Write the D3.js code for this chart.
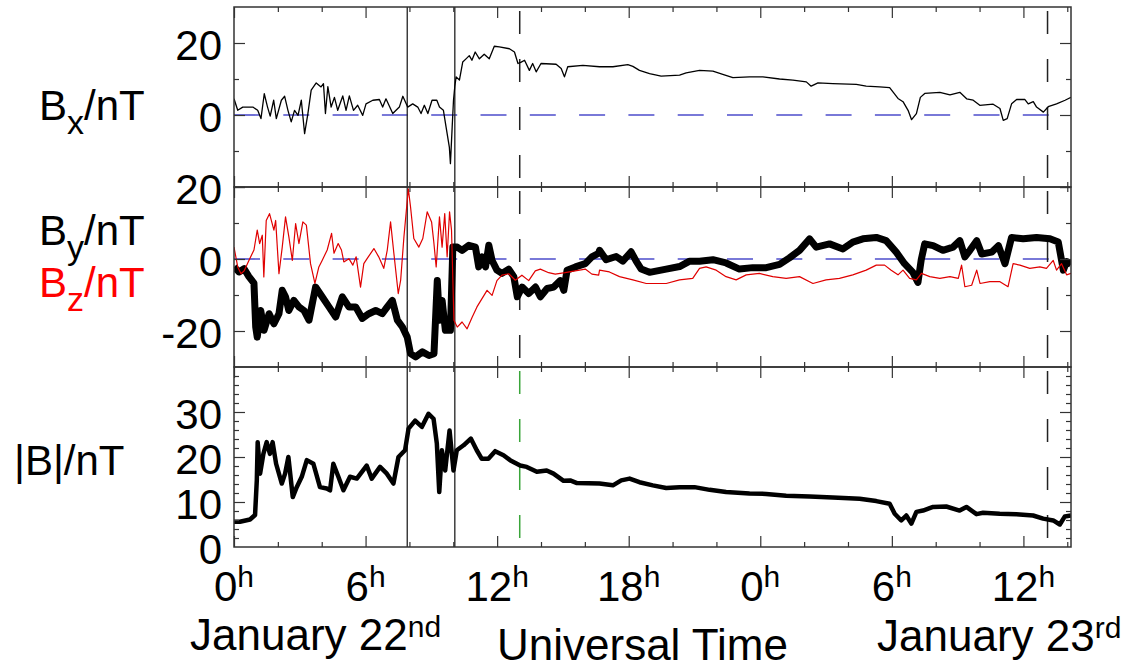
<!DOCTYPE html>
<html><head><meta charset="utf-8">
<script src="https://cdn.jsdelivr.net/npm/d3@7"></script>
<style>body{margin:0;background:#fff}svg{display:block}text{font-family:"Liberation Sans",Arial,Helvetica,sans-serif}</style>
</head><body><svg id="c" width="1132" height="670"></svg>
<script>
// ---------- data ----------
const timeDomain = [0, 38.17];           // hours since Jan 22 00 UT
const xMajorHours = [0, 6, 12, 18, 24, 30, 36];
const xMinorHours = [2, 4, 8, 10, 14, 16, 20, 22, 26, 28, 32, 34, 38];
const xTickLabels = ["0", "6", "12", "18", "0", "6", "12"];
const eventSolidHours = [7.9, 10.07];
const eventDashedHours = [13.03, 37.1];

const bxData = [[0,4.5],[0.17,1.3],[0.4,2.2],[0.86,2.2],[1.08,1.3],[1.23,-1],[1.38,5.9],[1.53,2.2],[1.65,-0.3],[1.81,4.1],[1.93,-1],[2.16,4.1],[2.31,5.2],[2.46,1.3],[2.61,-1.9],[2.76,1.3],[2.92,-0.1],[3.07,4.1],[3.22,-5.2],[3.37,0.4],[3.52,6.9],[3.75,8.9],[3.97,7.8],[4.08,8.7],[4.17,0.4],[4.28,7.9],[4.43,2.2],[4.58,4.9],[4.73,1.3],[4.96,5.3],[5.11,1.3],[5.26,5.3],[5.45,1.3],[5.64,2.7],[5.87,-0.1],[6.02,3.1],[6.33,4.1],[6.63,4.3],[6.78,2.2],[6.93,4.5],[7.24,0.4],[7.54,2.2],[7.7,5.2],[7.92,2.2],[8.15,3.1],[8.38,2.2],[8.53,0.4],[8.68,2.7],[8.84,0.4],[9.03,4.1],[9.25,4.1],[9.37,2.2],[9.55,1.3],[9.67,-3.3],[9.82,-8.9],[9.87,-13.5],[9.95,-3.3],[10.01,4.1],[10.07,8.0],[10.13,10.6],[10.28,9.7],[10.43,14.7],[10.58,15.6],[10.73,16.5],[10.85,15.2],[11.0,17.5],[11.19,15.6],[11.41,16.9],[11.64,15.6],[11.87,19.1],[12.1,18.9],[12.56,18.4],[12.79,17.5],[12.95,14.3],[13.1,14.7],[13.25,15.2],[13.47,12.4],[13.62,14.3],[13.78,12.0],[14.0,14.3],[14.69,14.1],[14.92,12.9],[15.07,10.6],[15.22,13.4],[15.91,13.8],[16.67,13.4],[17.28,13.4],[17.96,14.0],[18.19,13.5],[18.49,12.4],[18.95,11.5],[19.48,10.8],[20.32,11.1],[20.62,11.7],[21.23,12.4],[21.84,12.2],[22.29,11.3],[22.75,10.4],[23.51,10.6],[24.12,10.6],[24.88,10.0],[25.49,9.7],[26.1,9.2],[26.32,8.0],[26.63,8.9],[27.31,8.7],[28.38,8.5],[28.83,8.0],[29.44,7.8],[29.9,7.6],[30.05,6.4],[30.28,4.6],[30.51,3.7],[30.74,1.3],[30.9,-1.3],[31.12,0.4],[31.3,4.9],[31.5,6.0],[32.19,6.3],[32.65,5.6],[33.1,6.3],[33.41,4.5],[33.71,4.1],[34.01,2.7],[34.62,3.0],[34.93,1.8],[35.08,-1.5],[35.26,-1.0],[35.46,3.1],[35.69,4.3],[36.07,4.3],[36.22,3.1],[36.45,3.7],[36.6,2.2],[36.91,0.8],[37.13,2.3],[37.51,3.1],[37.9,4.1],[38.17,4.9]];

const byData = [[0,-2.2],[0.23,-3.6],[0.46,-2.7],[0.68,-4.9],[0.91,-6.7],[0.99,-18.9],[1.06,-21.7],[1.22,-14.3],[1.37,-19.8],[1.6,-15.2],[1.82,-18],[2.05,-15.2],[2.2,-8.7],[2.35,-10.5],[2.5,-14.3],[2.73,-11.5],[2.96,-13.3],[3.19,-14.3],[3.42,-17],[3.72,-7.8],[4.02,-10.5],[4.33,-13.3],[4.64,-16.1],[4.94,-10.5],[5.24,-13.3],[5.55,-13.3],[5.85,-16.5],[6.15,-15.2],[6.46,-14.3],[6.76,-15.2],[6.99,-13.3],[7.22,-11.5],[7.45,-17],[7.68,-18.9],[7.9,-21.7],[8.05,-26.3],[8.28,-27.2],[8.59,-25.8],[8.89,-26.8],[9.12,-26.3],[9.27,-6],[9.37,-17],[9.49,-11.5],[9.64,-19.8],[9.87,-19.8],[9.98,3.3],[10.18,3.3],[10.4,2.4],[10.71,3.8],[11.01,3.3],[11.16,-2.2],[11.31,0.6],[11.47,-2.2],[11.62,3.8],[11.77,-0.4],[11.99,-3.1],[12.22,-4],[12.53,-2.8],[12.76,-4.9],[12.92,-10.5],[13.14,-7.8],[13.44,-9.6],[13.75,-7.8],[13.97,-10.5],[14.28,-8.2],[14.58,-7.8],[14.88,-6],[15.04,-8.7],[15.19,-3.1],[15.57,-2.2],[16.02,-1.3],[16.32,0.6],[16.63,1.6],[16.67,2.4],[16.97,-0.2],[17.43,0.7],[17.73,-0.6],[18.11,2.0],[18.34,-0.6],[18.57,-2.8],[18.95,-3.7],[19.71,-2.8],[20.32,-2.1],[20.78,-0.6],[21.23,-0.6],[21.84,-0.2],[22.44,-1.1],[23.05,-2.8],[23.66,-2.4],[24.27,-2.4],[24.88,-1.5],[25.33,0.3],[25.79,2.4],[26.25,5.6],[26.55,3.3],[27.16,4.2],[27.77,2.8],[28.22,4.7],[28.68,5.6],[29.29,6.0],[29.74,5.1],[30.2,1.9],[30.58,-1.3],[30.96,-3.7],[31.19,-6.5],[31.34,-0.2],[31.5,4.2],[31.88,3.7],[32.33,2.4],[32.79,3.3],[33.1,5.1],[33.33,0.6],[33.56,2.4],[33.87,5.1],[34.1,1.4],[34.55,1.9],[34.86,3.7],[35.16,-1.3],[35.46,6.0],[35.99,5.6],[36.6,6.0],[37.21,5.6],[37.59,4.7],[37.82,-3.1],[37.97,-0.7],[38.17,-1.5]];

const bzData = [[0,3.3],[0.17,-2.2],[0.32,-4.1],[0.46,-3.3],[0.68,-0.4],[0.91,2.5],[1.06,8.0],[1.17,4.3],[1.29,6.6],[1.36,-5],[1.47,10.7],[1.62,12.6],[1.82,8],[1.9,10.7],[2.05,-4.1],[2.2,3.3],[2.35,11.7],[2.5,6.2],[2.66,-0.4],[2.81,9.8],[2.96,4.3],[3.14,10.3],[3.3,9.4],[3.49,-1.3],[3.69,-6.8],[3.87,-2.2],[4.02,-0.4],[4.25,2.5],[4.45,7.1],[4.56,1.6],[4.75,4.3],[4.9,2.5],[5.01,-0.8],[5.24,0.1],[5.42,-1.7],[5.57,0.6],[5.77,-7.8],[5.92,-1.3],[6.07,0.1],[6.38,2.9],[6.6,0.6],[6.83,-2.6],[6.99,2.5],[7.14,10.3],[7.29,1.6],[7.49,-9.6],[7.6,-5.9],[7.75,6.2],[7.95,19.5],[8.05,14.5],[8.2,5.7],[8.43,3.3],[8.61,5.7],[8.81,13.1],[9.01,10.3],[9.11,4.8],[9.22,-2.2],[9.37,11.7],[9.49,3.3],[9.61,12.6],[9.72,0.6],[9.83,13.1],[9.92,8],[10.03,-17],[10.18,-18.9],[10.4,-17.5],[10.63,-19.4],[10.86,-16.2],[11.08,-13.3],[11.31,-11],[11.54,-8.7],[11.77,-10.1],[11.99,-6],[12.22,-4.5],[12.53,-4.1],[12.83,-5.9],[13.13,-4.5],[13.44,-6],[13.74,-3.3],[13.97,-2.8],[14.35,-3.8],[14.65,-4.2],[15.1,-3.8],[15.56,-3.3],[16.02,-2.8],[16.32,-4.2],[16.63,-4.5],[16.67,-3.1],[17.12,-3.6],[17.58,-4.9],[18.19,-5.8],[18.8,-6.8],[19.71,-6.8],[20.32,-5.8],[20.92,-5.4],[21.23,-2.6],[21.53,-2.2],[21.99,-3.1],[22.44,-4.9],[22.9,-5.8],[23.36,-4.4],[23.96,-4.0],[24.57,-4.9],[25.18,-5.4],[25.79,-4.9],[26.4,-6.8],[27.0,-5.8],[27.61,-5.4],[28.22,-4.4],[28.83,-3.1],[29.29,-1.7],[29.67,-1.7],[29.97,-3.1],[30.28,-4.4],[30.51,-3.1],[30.81,-5.4],[31.12,-5.8],[31.35,-4.0],[31.73,-4.9],[32.19,-5.4],[32.65,-4.9],[33.03,-5.4],[33.18,-1.7],[33.33,-7.7],[33.64,-7.3],[33.87,-3.1],[34.02,-6.8],[34.47,-6.3],[34.93,-6.3],[35.3,-7.7],[35.53,-1.3],[35.84,-1.7],[36.29,-2.6],[36.75,-2.2],[37.05,-2.6],[37.36,-0.4],[37.51,-3.1],[37.74,-1.3],[37.97,-4.4],[38.17,-4.0]];

const bData = [[0,5.6],[0.27,5.6],[0.73,6.1],[0.96,7.1],[1.04,14.8],[1.08,23.3],[1.19,16.3],[1.34,20.7],[1.49,23.3],[1.64,20.7],[1.76,23.3],[1.92,18.5],[2.18,14.1],[2.33,16.3],[2.48,20],[2.68,11.1],[2.86,13.3],[3.09,15.6],[3.32,19.3],[3.62,18.5],[3.92,13.3],[4.23,13],[4.38,12.6],[4.53,18.5],[4.76,15.6],[4.99,12.6],[5.29,15.6],[5.6,15.2],[6.05,18.1],[6.28,15.2],[6.66,17.8],[6.97,16.3],[7.27,14.1],[7.5,20],[7.8,21.5],[7.96,26.3],[8.26,28.1],[8.57,26.7],[8.87,29.6],[9.1,28.5],[9.25,23],[9.36,12.2],[9.48,21.5],[9.63,17],[9.83,25.9],[10.01,17],[10.16,21.5],[10.47,22.6],[10.8,24.1],[11.07,21.5],[11.3,19.6],[11.6,19.6],[11.91,21.3],[12.29,20.4],[12.59,19.3],[13.05,18.1],[13.35,17.8],[13.81,16.7],[14.26,17],[14.57,16.3],[15.03,14.7],[15.33,14.8],[15.64,14.2],[16.67,14.1],[17.28,13.7],[17.66,14.8],[18.04,15.2],[18.49,14.4],[19.1,13.7],[19.71,13.1],[20.32,13.3],[21.0,13.3],[21.69,12.7],[22.44,12.2],[23.51,11.9],[24.27,11.8],[25.18,11.4],[26.25,11.2],[27.31,11.0],[28.53,10.7],[29.29,10.2],[29.9,9.6],[30.13,7.4],[30.43,5.9],[30.66,7.0],[30.89,5.2],[31.12,7.8],[31.42,8.1],[31.88,8.9],[32.48,9.0],[33.09,8.1],[33.4,8.9],[33.86,7.3],[34.16,7.6],[34.92,7.4],[35.68,7.3],[36.44,7.0],[36.9,6.3],[37.36,5.9],[37.66,5.0],[37.89,6.8],[38.17,7.0]];

// y-axis tick values per panel
const p1Majors = [-20, 0, 20], p1Minors = [-10, 10], p1Labels = [0, 20];
const p2Majors = [-20, 0, 20], p2Minors = [-10, 10], p2Labels = [-20, 0, 20];
const p3Majors = [10, 20, 30], p3Minors = [2,4,6,8,12,14,16,18,22,24,26,28,32,34,36,38], p3Labels = [0, 10, 20, 30];

// ---------- layout ----------
const svg = d3.select("#c");
const L = 234, R = 1071;
const FRAME = "#333";
const x = d3.scaleLinear().domain(timeDomain).range([L, R]);

const panels = [
  {top: 7,   bottom: 187, domain: [-20, 30], majors: p1Majors, minors: p1Minors, labels: p1Labels, zero: true,
   series: [{data: bxData, color: "#000", width: 1.3}], dashColor: ["#222", "#222"]},
  {top: 187, bottom: 367, domain: [-30, 20], majors: p2Majors, minors: p2Minors, labels: p2Labels, zero: true,
   series: [{data: byData, color: "#000", width: 7}, {data: bzData, color: "#e00000", width: 1.2}], dashColor: ["#222", "#222"]},
  {top: 367, bottom: 547, domain: [0, 40], majors: p3Majors, minors: p3Minors, labels: p3Labels, zero: false,
   series: [{data: bData, color: "#000", width: 4.5}], dashColor: ["#3aa53a", "#222"]}
];

panels.forEach((p, i) => {
  const y = d3.scaleLinear().domain(p.domain).range([p.bottom, p.top]);
  const g = svg.append("g");
  const cid = "clip" + i;
  svg.append("clipPath").attr("id", cid).append("rect")
    .attr("x", L).attr("y", p.top).attr("width", R - L).attr("height", p.bottom - p.top);
  const inner = g.append("g").attr("clip-path", `url(#${cid})`);

  if (p.zero) {
    inner.append("line").attr("x1", L).attr("x2", R).attr("y1", y(0)).attr("y2", y(0))
      .attr("stroke", "#4d4dcc").attr("stroke-width", 1.6).attr("stroke-dasharray", "26,23.3");
  }
  eventSolidHours.forEach(h => {
    inner.append("line").attr("x1", x(h)).attr("x2", x(h)).attr("y1", p.top).attr("y2", p.bottom)
      .attr("stroke", "#222").attr("stroke-width", 1.3);
  });
  eventDashedHours.forEach((h, k) => {
    inner.append("line").attr("x1", x(h)).attr("x2", x(h)).attr("y1", p.top + 4).attr("y2", p.bottom)
      .attr("stroke", p.dashColor[k]).attr("stroke-width", 1.5).attr("stroke-dasharray", "23,25");
  });

  const line = d3.line().x(d => x(d[0])).y(d => y(d[1]));
  p.series.forEach(s => {
    inner.append("path").datum(s.data).attr("d", line).attr("fill", "none")
      .attr("stroke", s.color).attr("stroke-width", s.width).attr("stroke-linejoin", "round");
  });

  // frame
  g.append("rect").attr("x", L).attr("y", p.top).attr("width", R - L).attr("height", p.bottom - p.top)
    .attr("fill", "none").attr("stroke", FRAME).attr("stroke-width", 1.5);

  const style = sel => { sel.select(".domain").remove(); sel.selectAll("line").attr("stroke", FRAME).attr("stroke-width", 1.2); };
  // y ticks, left and right, inward
  g.append("g").attr("transform", `translate(${L},0)`).call(d3.axisLeft(y).tickValues(p.majors).tickSize(-11).tickFormat("")).call(style);
  g.append("g").attr("transform", `translate(${L},0)`).call(d3.axisLeft(y).tickValues(p.minors).tickSize(-5).tickFormat("")).call(style);
  g.append("g").attr("transform", `translate(${R},0)`).call(d3.axisRight(y).tickValues(p.majors).tickSize(-11).tickFormat("")).call(style);
  g.append("g").attr("transform", `translate(${R},0)`).call(d3.axisRight(y).tickValues(p.minors).tickSize(-5).tickFormat("")).call(style);
  // x ticks, top and bottom, inward
  g.append("g").attr("transform", `translate(0,${p.top})`).call(d3.axisTop(x).tickValues(xMajorHours).tickSize(-11).tickFormat("")).call(style);
  g.append("g").attr("transform", `translate(0,${p.top})`).call(d3.axisTop(x).tickValues(xMinorHours).tickSize(-5).tickFormat("")).call(style);
  g.append("g").attr("transform", `translate(0,${p.bottom})`).call(d3.axisBottom(x).tickValues(xMajorHours).tickSize(-11).tickFormat("")).call(style);
  g.append("g").attr("transform", `translate(0,${p.bottom})`).call(d3.axisBottom(x).tickValues(xMinorHours).tickSize(-5).tickFormat("")).call(style);

  // y labels
  const lab = g.append("g").attr("transform", `translate(${L},0)`)
    .call(d3.axisLeft(y).tickValues(p.labels).tickSize(0).tickPadding(12).tickFormat(d => String(d)));
  lab.select(".domain").remove();
  lab.attr("font-size", 42).attr("font-family", '"Liberation Sans",Arial,sans-serif');
  lab.selectAll("text").attr("dy", "0.4em").attr("fill", "#000");
});

// x tick labels (bottom)
const xl = svg.append("g").attr("font-size", 42).attr("text-anchor", "middle");
xMajorHours.forEach((h, i) => {
  const t = xl.append("text").attr("x", x(h)).attr("y", 601);
  t.append("tspan").text(xTickLabels[i]);
  t.append("tspan").attr("font-size", 30).attr("dy", -14).text("h");
});

// axis titles
function title(xp, yp, main, sub, rest, color) {
  const t = svg.append("text").attr("x", xp).attr("y", yp).attr("font-size", 42).attr("fill", color);
  t.append("tspan").text(main);
  if (sub) {
    t.append("tspan").attr("font-size", 34).attr("dy", 14).text(sub);
    t.append("tspan").attr("dy", -14).text(rest);
  }
  return t;
}
title(39, 120, "B", "x", "/nT", "#000");
title(39, 245, "B", "y", "/nT", "#000");
title(39, 297, "B", "z", "/nT", "#ff0000");
title(14, 475, "|B|/nT", null, null, "#000");

// bottom captions
const c1 = svg.append("text").attr("x", 190).attr("y", 650).attr("font-size", 44);
c1.append("tspan").text("January 22");
c1.append("tspan").attr("font-size", 30).attr("dy", -13).text("nd");
svg.append("text").attr("x", 497).attr("y", 660).attr("font-size", 44).text("Universal Time");
const c2 = svg.append("text").attr("x", 877).attr("y", 651).attr("font-size", 44);
c2.append("tspan").text("January 23");
c2.append("tspan").attr("font-size", 30).attr("dy", -13).text("rd");
</script></body></html>
